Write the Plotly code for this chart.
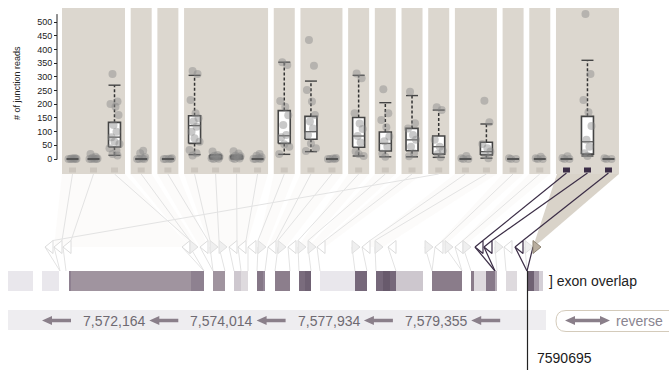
import plotly.graph_objects as go

# ---------------- data ----------------
# junction columns, grouped by the exon pair they belong to
GROUP_SIZES = [3, 1, 1, 4, 1, 2, 1, 1, 1, 1, 2, 1, 1, 3]

# junction read counts per sample, one list per junction column
READS = [
    [0, 0, 0, 0, 1, 2, 4],
    [0, 0, 0, 0, 2, 5, 8, 18],
    [311, 210, 201, 191, 161, 124, 100, 80, 63, 55, 39, 30, 18, 13],
    [0, 0, 0, 2, 6, 21, 30],
    [0, 0, 0, 1, 3],
    [322, 311, 216, 167, 149, 137, 118, 100, 76, 63, 33, 21, 13],
    [0, 1, 3, 5, 8, 12, 15, 27],
    [0, 2, 4, 6, 10, 12, 20, 28],
    [0, 0, 1, 3, 6, 12, 18],
    [354, 344, 212, 191, 160, 124, 88, 80, 54, 45, 18],
    [435, 341, 252, 210, 161, 137, 112, 88, 57, 39, 29],
    [0, 0, 0, 2, 4],
    [313, 295, 167, 130, 110, 84, 60, 27, 18, 11],
    [255, 167, 143, 116, 82, 65, 45, 20, 8],
    [246, 131, 112, 88, 70, 45, 21, 10],
    [189, 179, 70, 45, 30, 18, 6],
    [0, 0, 3, 11],
    [213, 134, 55, 39, 27, 15, 3],
    [0, 0, 3],
    [0, 0, 3, 8],
    [0, 0, 4, 10],
    [530, 311, 216, 171, 121, 70, 45, 21, 11],
    [0, 0, 3],
]

WHISKER_LOW = [0, 0, 13.5, 0, 0, 16, 0, 0, 0, 17, 27, 0, 11, 8, 8, 6, 0, 3, 0, 0, 0, 11, 0]
Q1 = [0, 0, 44, 0, 0, 57, 2, 2, 0, 57, 72, 0, 43, 29, 30, 18, 0, 15, 0, 0, 0, 18, 0]
MEDIAN = [0, 0, 80, 0, 0, 122, 6, 5, 0, 85, 100, 0, 84, 57, 70, 45, 0, 27, 0, 0, 0, 63, 0]
Q3 = [0, 0, 134, 0, 0, 158, 12, 10, 0, 177, 156, 0, 152, 99, 112, 84, 0, 61, 0, 0, 0, 156, 0]
WHISKER_HIGH = [0, 0, 270, 0, 0, 306, 16, 14, 0, 354, 285, 0, 306, 206, 232, 179, 0, 128, 0, 0, 0, 361, 0]

SELECTED = [20, 21, 22]
Y_TICKS = list(range(0, 501, 50))
GENOME_TICKS = ["7,572,164", "7,574,014", "7,577,934", "7,579,355"]
CURSOR_LABEL = "7590695"

# ---------------- geometry (screen-space track layout) ----------------
W, H = 669, 370
PANEL_TOP, PANEL_BOTTOM = 8, 174
ZERO_PX, PX_PER_READ = 159.0, 0.2734
COL_W, GAP, X_START = 21.0, 5.69, 62.0
BOX_HALF = 6.0
JITTER = [-2, 3, -4, 1, 4, -1, 2, -3, 0, 5, -5, 2, -2, 3]

BG = "#dcd7cf"
DARK = "#3b2d46"
FONT = "Liberation Sans, Arial, sans-serif"

centers, group_spans, col_group = [], [], []
x = X_START
for gi, n in enumerate(GROUP_SIZES):
    group_spans.append((x, x + n * COL_W))
    for k in range(n):
        centers.append(x + COL_W * k + COL_W / 2)
        col_group.append(gi)
    x += n * COL_W + GAP

# splice-site markers: (left x, direction, style)
TRIANGLES = [
    (45, "L", "f"), (54, "L", "f"), (63, "L", "f"),
    (182, "L", "f"), (190, "R", "g"), (200, "L", "f"), (210, "R", "g"), (219, "R", "g"),
    (229, "L", "f"), (238, "L", "f"), (248, "L", "f"), (258, "R", "g"), (268, "L", "f"),
    (278, "R", "g"), (288, "L", "f"), (298, "R", "g"), (308, "R", "g"), (317, "L", "f"),
    (352, "R", "g"), (362, "L", "f"), (375, "R", "g"), (388, "L", "f"),
    (425, "R", "g"), (435, "L", "f"), (445, "R", "g"), (455, "L", "f"), (463, "R", "g"),
    (475, "L", "d"), (484, "L", "d"), (495, "R", "g"), (504, "L", "f"),
    (515, "L", "d"), (525, "R", "g"), (533, "R", "t"),
]
TRI_TARGET = [60, 60, 66, 204, 204, 213, 213, 225, 234, 241, 248, 257, 265, 275, 290, 299,
              311, 320, 355, 367, 376, 396, 432, 432, 462, 462, 471, 495, 495, 497, 506,
              527, 527, 527]
COL_TRI = [1, 2, 3, 4, 5, 6, 7, 8, 9, 11, 12, 13, 15, 16, 17, 0, 19, 20, 23, 25, 27, 28, 31]
TRI_Y, TRI_HALF_H, TRI_W = 247, 6.5, 8
BAR_TOP, BAR_BOTTOM = 271, 291

# exon overlap bar segments: (start, end, colour)
EXONS = [
    (8, 33, "#e9e7ec"), (42, 59, "#e9e7ec"), (69, 71, "#8e8090"), (71, 191, "#a0949f"),
    (191, 204, "#8e8190"), (213, 225, "#a0949f"), (234, 241, "#cec8cf"), (241, 248, "#dedade"),
    (257, 263, "#857787"), (263, 265, "#958898"), (275, 290, "#8c7e8c"), (299, 305, "#7a6c7d"),
    (305, 311, "#6f6173"), (320, 355, "#e9e7ec"), (355, 367, "#76687a"), (376, 383, "#76687a"),
    (383, 390, "#685a6c"), (390, 396, "#76687a"), (396, 423, "#cdc7ce"), (432, 462, "#8a7c8a"),
    (471, 474, "#8a7c8a"), (474, 486, "#dedade"), (486, 495, "#877989"), (495, 497, "#b5acb6"),
    (506, 517, "#dedade"), (527, 534, "#6f6173"), (534, 539, "#a398a6"), (539, 543, "#d4cfd6"),
]

fig = go.Figure()
shapes = []

# grey panels per exon pair
for (g0, g1) in group_spans:
    shapes.append(dict(type="rect", xref="x", yref="y", x0=g0, x1=g1, y0=PANEL_TOP, y1=PANEL_BOTTOM,
                       fillcolor=BG, line=dict(width=0), layer="below"))


def tri_poly(tx, d):
    if d == "L":
        return [tx, tx + TRI_W, tx + TRI_W, tx], [TRI_Y, TRI_Y - TRI_HALF_H, TRI_Y + TRI_HALF_H, TRI_Y]
    return [tx + TRI_W, tx, tx, tx + TRI_W], [TRI_Y, TRI_Y - TRI_HALF_H, TRI_Y + TRI_HALF_H, TRI_Y]


def tri_entry(i):
    tx, d, _ = TRIANGLES[i]
    return (tx + TRI_W, TRI_Y - TRI_HALF_H) if d == "L" else (tx, TRI_Y - TRI_HALF_H)


def add_poly(xs, ys, fill, line_color="rgba(0,0,0,0)", lw=0):
    fig.add_trace(go.Scatter(x=xs, y=ys, mode="lines", fill="toself", fillcolor=fill,
                             line=dict(color=line_color, width=lw), hoverinfo="skip",
                             showlegend=False, xaxis="x", yaxis="y"))


def add_segments(segs, color, width):
    xs, ys = [], []
    for (xa, ya, xb, yb) in segs:
        xs += [xa, xb, None]
        ys += [ya, yb, None]
    fig.add_trace(go.Scatter(x=xs, y=ys, mode="lines", line=dict(color=color, width=width),
                             hoverinfo="skip", showlegend=False, xaxis="x", yaxis="y"))


# faint fans from each exon-pair panel to its splice sites
for gi, (g0, g1) in enumerate(group_spans):
    cols = [c for c in range(len(centers)) if col_group[c] == gi]
    if gi == len(group_spans) - 1 or any(COL_TRI[c] == 0 for c in cols):
        continue
    txs = [TRIANGLES[COL_TRI[c]][0] for c in cols]
    lo, hi = min(txs), max(txs) + TRI_W
    add_poly([g0, g1, hi, lo, g0], [PANEL_BOTTOM, PANEL_BOTTOM, TRI_Y, TRI_Y, PANEL_BOTTOM],
             "rgba(232,227,218,0.13)")

# highlighted fan for the selected exon pair
g0, g1 = group_spans[-1]
add_poly([g0 + 1, g1, 541, 533, g0 + 1], [PANEL_BOTTOM, PANEL_BOTTOM, 241, 247, PANEL_BOTTOM], "#d9d3c9")

# faint connectors
faint = []
for c, cx in enumerate(centers):
    if c in SELECTED:
        continue
    ex, ey = tri_entry(COL_TRI[c])
    faint.append((cx, PANEL_BOTTOM, ex, ey))
for i, (tx, d, st) in enumerate(TRIANGLES):
    if st in ("d", "t"):
        continue
    faint.append((tx, TRI_Y, TRI_TARGET[i], BAR_TOP))
add_segments(faint, "#e3e3e3", 1)

# splice-site markers
for tx, d, st in TRIANGLES:
    xs, ys = tri_poly(tx, d)
    if st == "f":
        add_poly(xs, ys, "white", "#dcdcdc", 1)
    elif st == "g":
        add_poly(xs, ys, "#efefef", "#e0e0e0", 1)

# selected junction connectors
dark = []
for c in SELECTED:
    ex, ey = tri_entry(COL_TRI[c])
    dark.append((centers[c], PANEL_BOTTOM - 1, ex, ey))
for i, (tx, d, st) in enumerate(TRIANGLES):
    if st in ("d", "t"):
        dark.append((tx, TRI_Y, TRI_TARGET[i], BAR_TOP))
add_segments(dark, DARK, 1.2)
for tx, d, st in TRIANGLES:
    xs, ys = tri_poly(tx, d)
    if st == "d":
        add_poly(xs, ys, "white", DARK, 1.2)
    elif st == "t":
        add_poly(xs, ys, "#b9ae9f", "#8f8575", 1)

# junction squares under each column
for c, cx in enumerate(centers):
    col = DARK if c in SELECTED else "#cbc5bd"
    shapes.append(dict(type="rect", xref="x", yref="y", x0=cx - 3.5, x1=cx + 3.5, y0=167.5, y1=172.5,
                       fillcolor=col, line=dict(width=0)))

# exon overlap bar
for (a, b, col) in EXONS:
    shapes.append(dict(type="rect", xref="x", yref="y", x0=a, x1=b, y0=BAR_TOP, y1=BAR_BOTTOM,
                       fillcolor=col, line=dict(width=0)))

# genome coordinate strip
shapes.append(dict(type="rect", xref="x", yref="y", x0=8, x1=546, y0=310, y1=330,
                   fillcolor="#eeedf0", line=dict(width=0)))
ARROW_COL = "#8a7f8a"
for k in range(len(GENOME_TICKS) + 1):
    a0 = 42 + 107.3 * k
    path = (f"M {a0} 320.5 L {a0 + 10} 316 L {a0 + 10} 318.8 L {a0 + 29} 318.8 "
            f"L {a0 + 29} 322.2 L {a0 + 10} 322.2 L {a0 + 10} 325 Z")
    shapes.append(dict(type="path", xref="x", yref="y", path=path, fillcolor=ARROW_COL, line=dict(width=0)))

annotations = []
for k, lab in enumerate(GENOME_TICKS):
    annotations.append(dict(x=114 + 107.3 * k, y=320.5, xref="x", yref="y", text=lab, showarrow=False,
                            font=dict(family=FONT, size=14, color="#6e6a72"), xanchor="center", yanchor="middle"))

# reverse toggle
shapes.append(dict(type="path", xref="x", yref="y",
                   path="M 566 310.5 L 690 310.5 L 690 331.5 L 566 331.5 Q 556 331.5 556 321 Q 556 310.5 566 310.5 Z",
                   fillcolor="white", line=dict(color="#d4cbbb", width=1)))
shapes.append(dict(type="path", xref="x", yref="y",
                   path=("M 565 320.5 L 575 316 L 575 318.8 L 600 318.8 L 600 316 L 610 320.5 "
                         "L 600 325 L 600 322.2 L 575 322.2 L 575 325 Z"),
                   fillcolor=ARROW_COL, line=dict(width=0)))
annotations.append(dict(x=614, y=321, xref="x", yref="y", text="reverse", showarrow=False,
                        font=dict(family=FONT, size=14, color="#8a8590"), xanchor="left", yanchor="middle"))

# position cursor
shapes.append(dict(type="line", xref="x", yref="y", x0=527.5, x1=527.5, y0=BAR_TOP, y1=H,
                   line=dict(color="#222222", width=1.2)))
annotations.append(dict(x=535, y=357.5, xref="x", yref="y", text=CURSOR_LABEL, showarrow=False,
                        font=dict(family=FONT, size=14, color="#1a1a1a"), xanchor="left", yanchor="middle"))
annotations.append(dict(x=547, y=281, xref="x", yref="y", text="] exon overlap", showarrow=False,
                        font=dict(family=FONT, size=14, color="#222222"), xanchor="left", yanchor="middle"))
annotations.append(dict(x=17, y=83, xref="x", yref="y", text="# of junction reads", showarrow=False,
                        textangle=-90, font=dict(family=FONT, size=9, color="#222222"),
                        xanchor="center", yanchor="middle"))

# ---------------- box plots (read-count axis) ----------------
box_x, box_y, med_x, med_y = [], [], [], []
wh_x, wh_y, cap_x, cap_y = [], [], [], []
flat_x, flat_y = [], []
for c, cx in enumerate(centers):
    if Q3[c] > Q1[c]:
        box_x += [cx - BOX_HALF, cx + BOX_HALF, cx + BOX_HALF, cx - BOX_HALF, cx - BOX_HALF, None]
        box_y += [Q1[c], Q1[c], Q3[c], Q3[c], Q1[c], None]
        med_x += [cx - BOX_HALF, cx + BOX_HALF, None]
        med_y += [MEDIAN[c], MEDIAN[c], None]
        if WHISKER_HIGH[c] > Q3[c]:
            wh_x += [cx, cx, None]
            wh_y += [Q3[c], WHISKER_HIGH[c], None]
        if WHISKER_LOW[c] < Q1[c]:
            wh_x += [cx, cx, None]
            wh_y += [Q1[c], WHISKER_LOW[c], None]
        for v in (WHISKER_HIGH[c], WHISKER_LOW[c]):
            cap_x += [cx - BOX_HALF, cx + BOX_HALF, None]
            cap_y += [v, v, None]
    else:
        flat_x += [cx - BOX_HALF, cx + BOX_HALF, None]
        flat_y += [MEDIAN[c], MEDIAN[c], None]

common = dict(hoverinfo="skip", showlegend=False, xaxis="x", yaxis="y2")
fig.add_trace(go.Scatter(x=wh_x, y=wh_y, mode="lines", line=dict(color="#333333", width=1.5, dash="3px,2px"), **common))
fig.add_trace(go.Scatter(x=cap_x, y=cap_y, mode="lines", line=dict(color="#444444", width=1.4), **common))
fig.add_trace(go.Scatter(x=box_x, y=box_y, mode="lines", fill="toself", fillcolor="white",
                         line=dict(color="#444444", width=1.6), **common))
fig.add_trace(go.Scatter(x=med_x, y=med_y, mode="lines", line=dict(color="#555555", width=1.3), **common))

px, py = [], []
for c, cx in enumerate(centers):
    for j, v in enumerate(READS[c]):
        px.append(cx + JITTER[j % len(JITTER)])
        py.append(v)
fig.add_trace(go.Scatter(x=px, y=py, mode="markers",
                         marker=dict(size=8, color="rgba(135,135,135,0.45)", line=dict(width=0)), **common))

# collapsed boxes (all quartiles at zero) drawn over their samples
fig.add_trace(go.Scatter(x=flat_x, y=flat_y, mode="lines", line=dict(color="#555555", width=2), **common))

# read-count axis line
shapes.append(dict(type="line", xref="x", yref="y2", x0=57, x1=57, y0=-2, y1=530,
                   line=dict(color="#222222", width=1)))

y_lo = (ZERO_PX - PANEL_BOTTOM) / PX_PER_READ
y_hi = (ZERO_PX - PANEL_TOP) / PX_PER_READ

fig.update_layout(
    width=W, height=H, margin=dict(l=0, r=0, t=0, b=0),
    paper_bgcolor="white", plot_bgcolor="rgba(0,0,0,0)",
    showlegend=False, shapes=shapes, annotations=annotations,
    xaxis=dict(range=[0, W], domain=[0, 1], visible=False, fixedrange=True),
    yaxis=dict(range=[H, 0], domain=[0, 1], visible=False, fixedrange=True),
    yaxis2=dict(domain=[1 - PANEL_BOTTOM / H, 1 - PANEL_TOP / H], range=[y_lo, y_hi],
                anchor="free", position=57 / W, side="left", showgrid=False, zeroline=False,
                showline=False, ticks="outside", ticklen=3, tickwidth=1, tickcolor="#222222",
                tickvals=Y_TICKS, tickfont=dict(family=FONT, size=9, color="#222222"), fixedrange=True),
)

fig.write_html("out.html")
